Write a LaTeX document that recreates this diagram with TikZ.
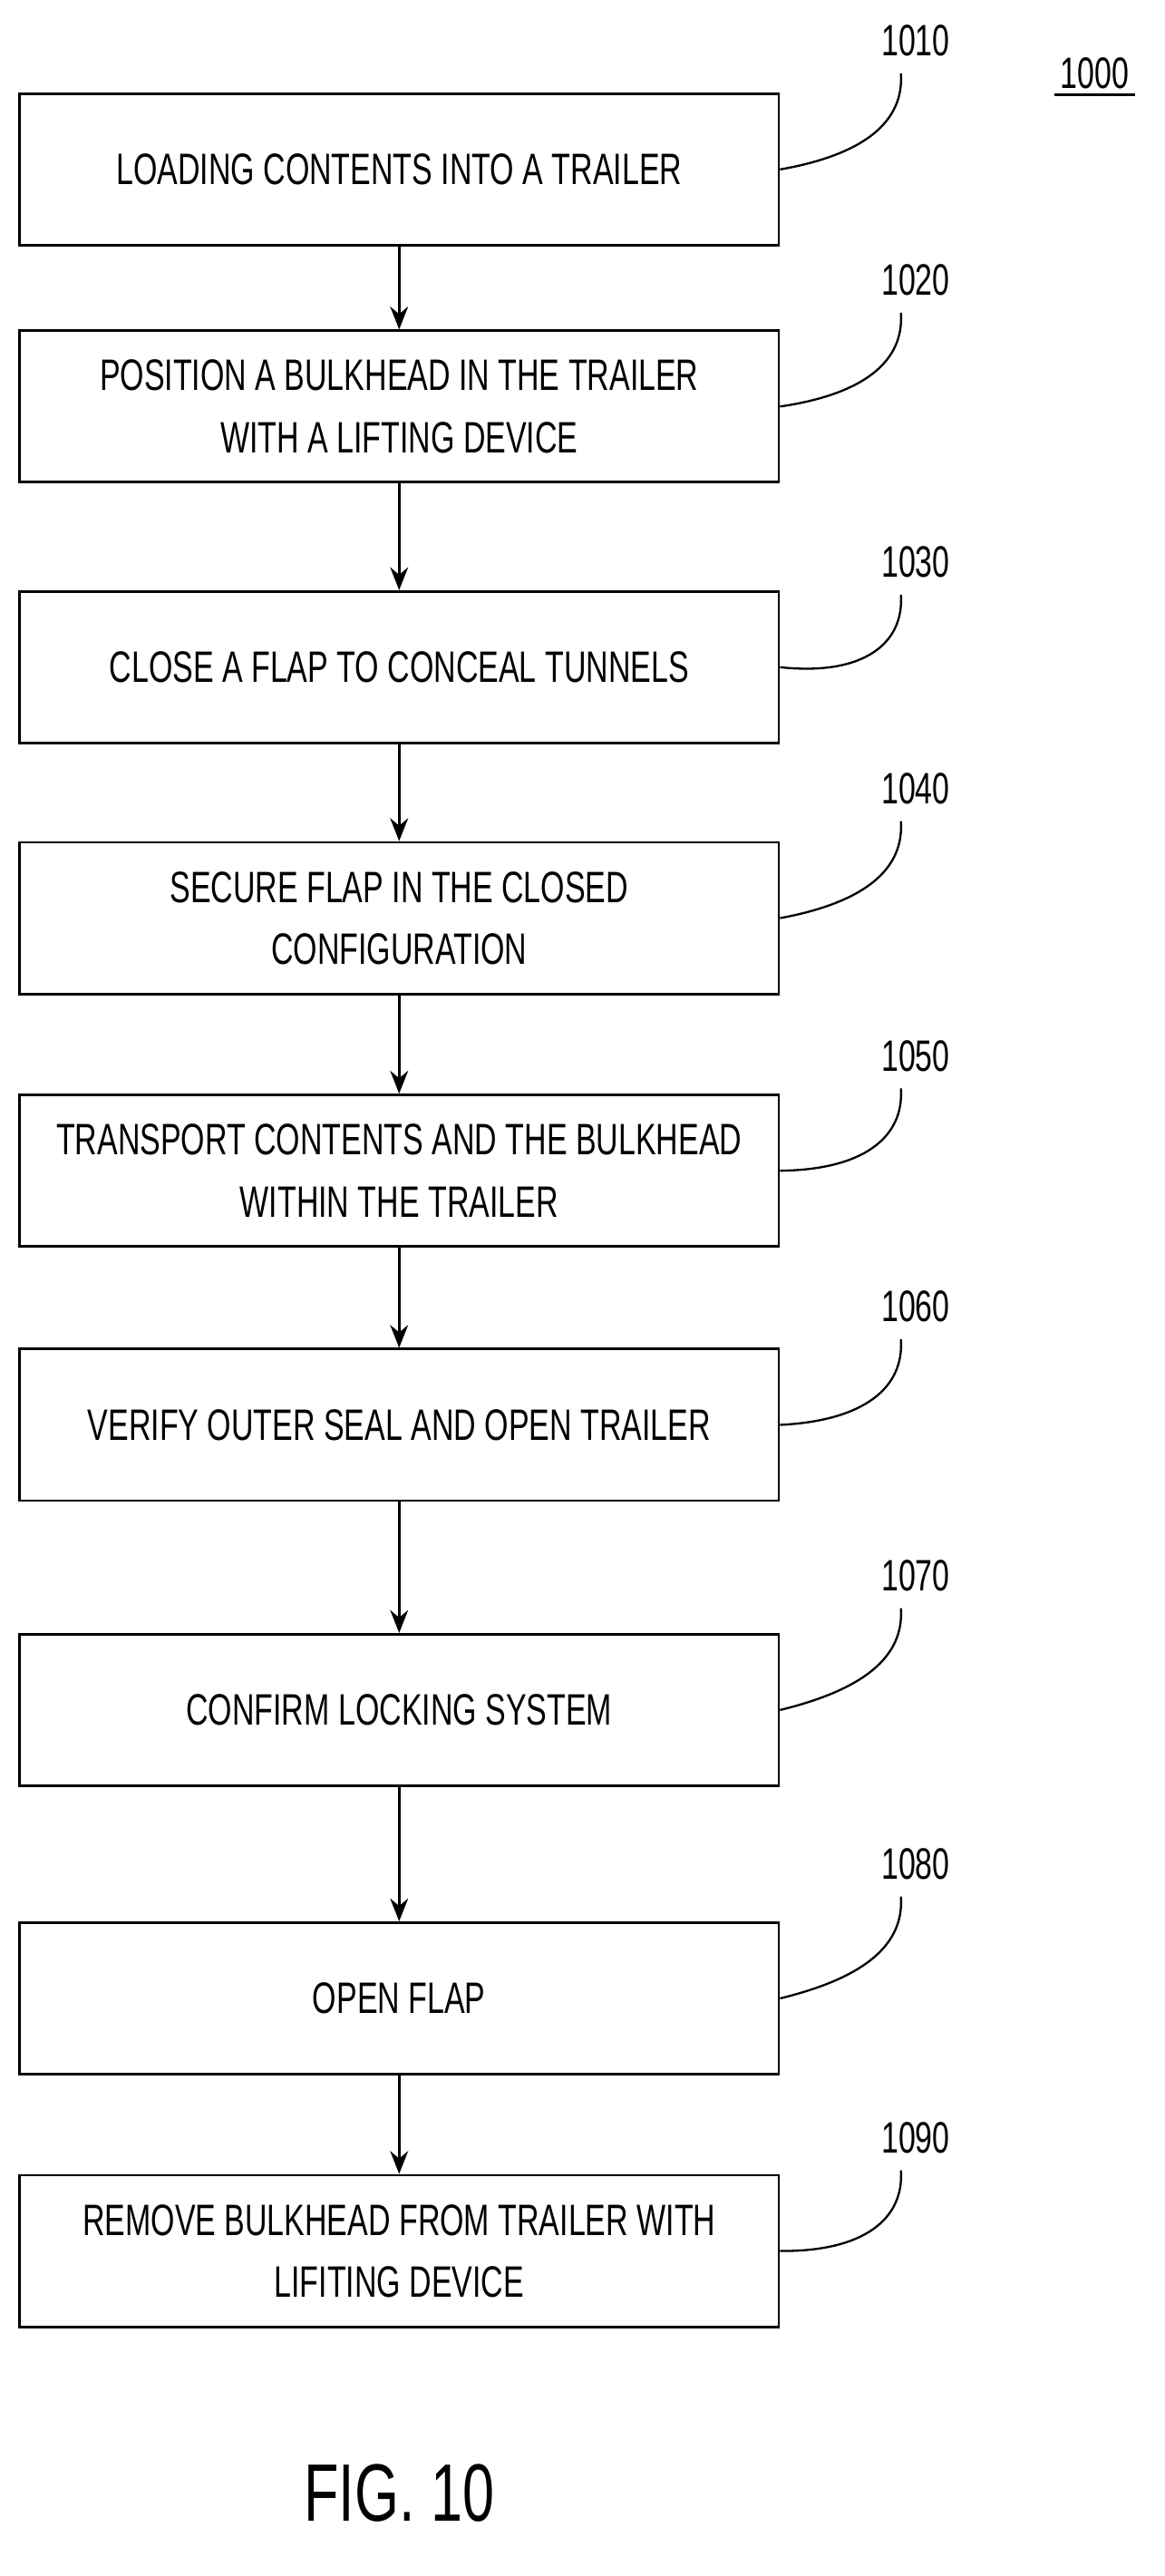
\documentclass[tikz,border=0pt]{standalone}
\usepackage{fontspec}
\setmainfont[FakeStretch=0.70]{Liberation Sans}
\usetikzlibrary{arrows.meta}
\begin{document}
\begin{tikzpicture}[x=1pt,y=-1pt,
  box/.style={draw,line width=1.6pt,minimum width=466pt,minimum height=93pt,align=center,font=\fontsize{27}{38}\selectfont,inner sep=0pt},
  arr/.style={line width=1.8pt,-{Stealth[length=14pt,width=11pt]}},
  lead/.style={line width=1.3pt},
  num/.style={font=\fontsize{27}{30}\selectfont}]
\useasboundingbox (0,0) rectangle (715,1581);
\def\bx{245}
\node[box] (b1) at (\bx,104) {LOADING CONTENTS INTO A TRAILER};
\node[box] (b2) at (\bx,249.5) {POSITION A BULKHEAD IN THE TRAILER\\WITH A LIFTING DEVICE};
\node[box] (b3) at (\bx,409.5) {CLOSE A FLAP TO CONCEAL TUNNELS};
\node[box] (b4) at (\bx,563.5) {SECURE FLAP IN THE CLOSED\\CONFIGURATION};
\node[box] (b5) at (\bx,718.5) {TRANSPORT CONTENTS AND THE BULKHEAD\\WITHIN THE TRAILER};
\node[box] (b6) at (\bx,874.5) {VERIFY OUTER SEAL AND OPEN TRAILER};
\node[box] (b7) at (\bx,1049.5) {CONFIRM LOCKING SYSTEM};
\node[box] (b8) at (\bx,1226.5) {OPEN FLAP};
\node[box] (b9) at (\bx,1381.5) {REMOVE BULKHEAD FROM TRAILER WITH\\LIFITING DEVICE};
\foreach \a/\b in {b1/b2,b2/b3,b3/b4,b4/b5,b5/b6,b6/b7,b7/b8,b8/b9}
  \draw[arr] (\a.south) -- (\b.north);
\foreach \b/\n/\y in {b1/1010/25,b2/1020/172,b3/1030/345,b4/1040/484,b5/1050/648,b6/1060/802,b7/1070/967,b8/1080/1144,b9/1090/1312}{
  \node[num] (n\n) at (562,\y) {\n};
  \draw[lead] (\b.east) .. controls (530,\y+70) and (555,\y+50) .. (553,\y+20);
}
\node[num] (n1000) at (672,45) {1000};
\draw[lead] (n1000.south west) -- (n1000.south east);
\node[font=\fontsize{50}{55}\selectfont] (fig) at (245,1530) {FIG. 10};
\end{tikzpicture}
\end{document}
